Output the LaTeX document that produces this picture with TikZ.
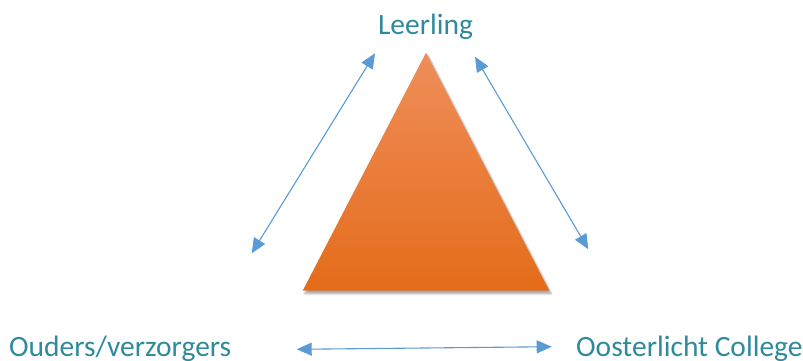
\documentclass[tikz,border=0pt]{standalone}
\usepackage{fontspec}
\setmainfont{Carlito}
\usetikzlibrary{arrows.meta,shadows.blur}
\definecolor{labelc}{HTML}{2E8A9C}
\definecolor{arrc}{HTML}{5B9BD5}
\definecolor{trtop}{HTML}{EF8E5A}
\definecolor{trmid}{HTML}{F37F2F}
\definecolor{trbot}{HTML}{E46C1A}
\begin{document}
\begin{tikzpicture}[x=1pt,y=-1pt,
  lbl/.style={text=labelc, font=\fontsize{29.5}{34}\selectfont, inner sep=0pt},
  link/.style={draw=arrc, line width=1.1pt,
    {Triangle[length=15pt,width=13pt]}-{Triangle[length=15pt,width=13pt]}},
  tri/.style={top color=trtop, middle color=trmid, bottom color=trbot,
    blur shadow={shadow xshift=2pt, shadow yshift=-3pt, shadow blur steps=8, shadow opacity=35}}]
\useasboundingbox (0,0) rectangle (803,361);
\node[lbl, anchor=base] (leer) at (425.5,34.5) {Leerling};
\node[lbl, anchor=base west] (oud) at (9,356) {Ouders/verzorgers};
\node[lbl, anchor=base west] (oost) at (576,356) {Oosterlicht College};
\coordinate (tA) at (426,52.7);
\coordinate (tB) at (302.7,290.7);
\coordinate (tC) at (549.3,290.7);
\path[tri] (tA) -- (tB) -- (tC) -- cycle;
\coordinate (l1) at (375,53.3);
\coordinate (l2) at (251.7,253.3);
\coordinate (r1) at (475,56.7);
\coordinate (r2) at (588.3,249.3);
\coordinate (b1) at (296.7,349.3);
\coordinate (b2) at (551.7,346.7);
\draw[link] (l2) -- (l1);
\draw[link] (r1) -- (r2);
\draw[link] (b1) -- (b2);
\end{tikzpicture}
\end{document}
